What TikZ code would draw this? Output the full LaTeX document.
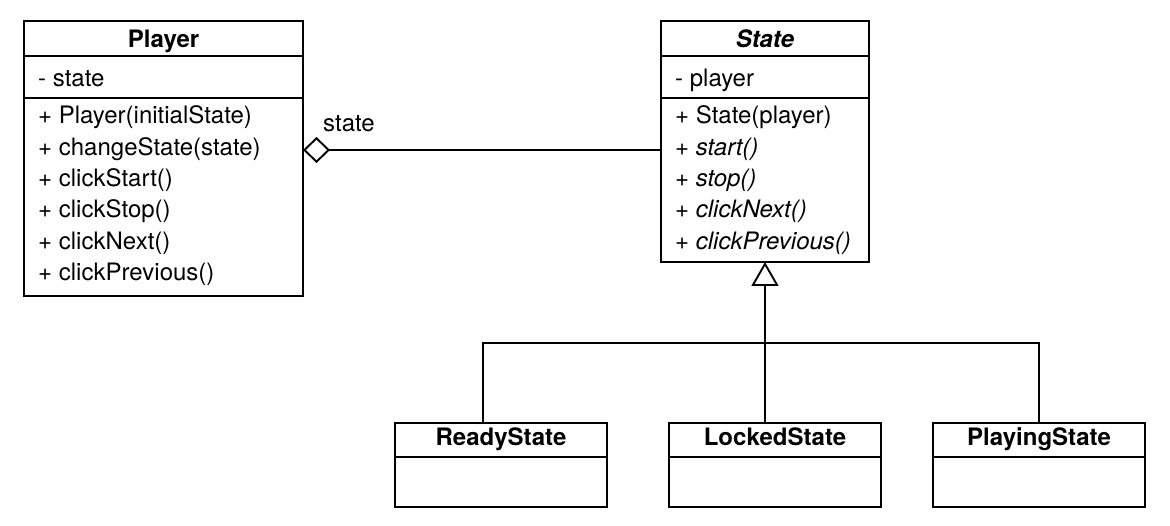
\documentclass[tikz,border=0pt]{standalone}
\usepackage{fontspec}
\setmainfont{TeX Gyre Heros}
\usetikzlibrary{arrows.meta}
\begin{document}
\begin{tikzpicture}[x=1pt,y=-1pt,
  box/.style={draw, line width=1.9pt, anchor=north west, inner sep=0pt, outer sep=0pt},
  txt/.style={anchor=base west, inner sep=0pt, font=\fontsize{24pt}{28pt}\selectfont},
  itxt/.style={txt, font=\fontsize{24pt}{28pt}\selectfont\itshape},
  hdr/.style={anchor=base, inner sep=0pt, font=\fontsize{24pt}{28pt}\selectfont\bfseries},
  ln/.style={line width=1.9pt},
  ]
\useasboundingbox (0,0) rectangle (1170,526);

% Player class
\node[box, minimum width=279pt, minimum height=275pt] (player) at (24,21) {};
\draw[ln] (player.west |- 0,56) -- (player.east |- 0,56);
\draw[ln] (player.west |- 0,98) -- (player.east |- 0,98);
\node[hdr] (playerh) at (163.5,48) {Player};
\node[txt] (pa1) at (38,87) {- state};
\node[txt] (pm1) at (38,124) {+ Player(initialState)};
\node[txt] (pm2) at (38,155.3) {+ changeState(state)};
\node[txt] (pm3) at (38,186.6) {+ clickStart()};
\node[txt] (pm4) at (38,217.9) {+ clickStop()};
\node[txt] (pm5) at (38,249.2) {+ clickNext()};
\node[txt] (pm6) at (38,280.5) {+ clickPrevious()};

% State class
\node[box, minimum width=208pt, minimum height=241pt] (state) at (661,21) {};
\draw[ln] (state.west |- 0,56) -- (state.east |- 0,56);
\draw[ln] (state.west |- 0,98) -- (state.east |- 0,98);
\node[hdr, font=\fontsize{24pt}{28pt}\selectfont\bfseries\itshape] (stateh) at (765,48) {State};
\node[txt] (sa1) at (675,87) {- player};
\node[txt] (sm1) at (675,124) {+ State(player)};
\node[itxt] (sm2) at (675,155.3) {+ start()};
\node[itxt] (sm3) at (675,186.6) {+ stop()};
\node[itxt] (sm4) at (675,217.9) {+ clickNext()};
\node[itxt] (sm5) at (675,249.2) {+ clickPrevious()};

% Subclasses
\node[box, minimum width=212pt, minimum height=84pt] (ready) at (395,423) {};
\draw[ln] (ready.west |- 0,457) -- (ready.east |- 0,457);
\node[hdr] (readyh) at (ready.north |- 0,446) {ReadyState};

\node[box, minimum width=212pt, minimum height=84pt] (locked) at (669,423) {};
\draw[ln] (locked.west |- 0,457) -- (locked.east |- 0,457);
\node[hdr] (lockedh) at (locked.north |- 0,446) {LockedState};

\node[box, minimum width=212pt, minimum height=84pt] (playing) at (933,423) {};
\draw[ln] (playing.west |- 0,457) -- (playing.east |- 0,457);
\node[hdr] (playingh) at (playing.north |- 0,446) {PlayingState};

% Aggregation
\draw[ln, {Diamond[open, length=27pt, width=26pt, line width=1.9pt]}-] (player.east |- 0,150) -- (state.west |- 0,150);
\node[txt] (agglabel) at (323,131.5) {state};

% Generalization
\coordinate (j) at (765,343);
\draw[ln, {Triangle[open, length=24pt, width=27pt, line width=1.9pt]}-] (state.south) -- (j);
\draw[ln] (j) -- (locked.north -| j);
\draw[ln] (ready.north -| 483,0) |- (j) -| (playing.north);
\end{tikzpicture}
\end{document}
